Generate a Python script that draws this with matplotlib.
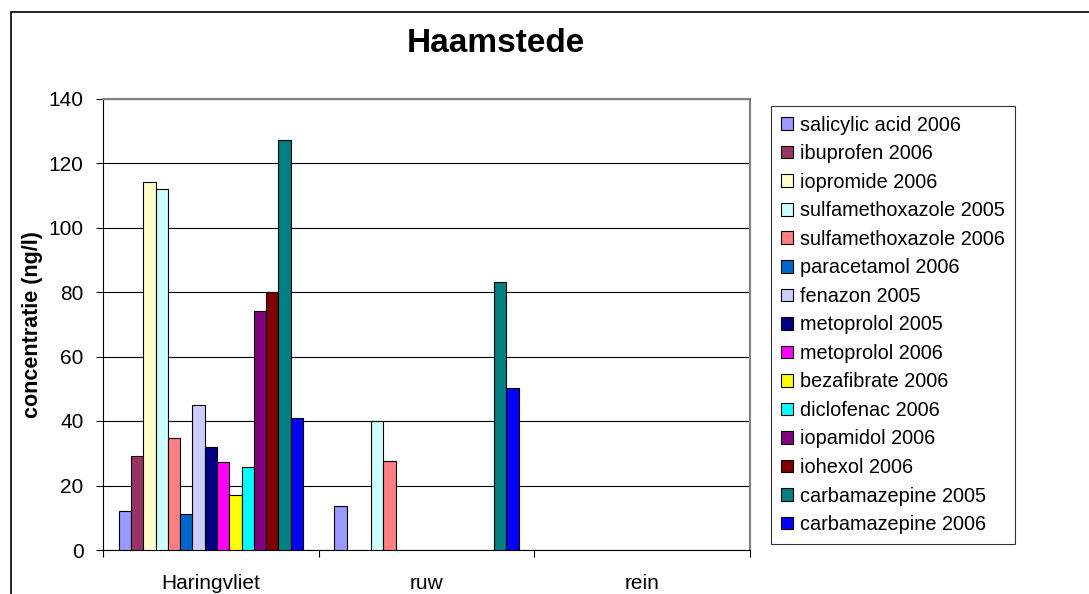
import matplotlib

matplotlib.use("Agg")
import matplotlib.pyplot as plt
import numpy as np
from matplotlib.patches import Rectangle

plt.rcParams["font.family"] = ["Liberation Sans", "DejaVu Sans"]

locations = ["Haringvliet", "ruw", "rein"]

series = [
    "salicylic acid 2006",
    "ibuprofen 2006",
    "iopromide 2006",
    "sulfamethoxazole 2005",
    "sulfamethoxazole 2006",
    "paracetamol 2006",
    "fenazon 2005",
    "metoprolol 2005",
    "metoprolol 2006",
    "bezafibrate 2006",
    "diclofenac 2006",
    "iopamidol 2006",
    "iohexol 2006",
    "carbamazepine 2005",
    "carbamazepine 2006",
]

# concentrations (ng/l) per series: [Haringvliet, ruw, rein]; nan = not measured
nan = np.nan
salicylic_acid_2006 = [12, 13.7, nan]
ibuprofen_2006 = [29, nan, nan]
iopromide_2006 = [114, nan, nan]
sulfamethoxazole_2005 = [112, 40, nan]
sulfamethoxazole_2006 = [34.7, 27.7, nan]
paracetamol_2006 = [11.2, nan, nan]
fenazon_2005 = [45, nan, nan]
metoprolol_2005 = [32, nan, nan]
metoprolol_2006 = [27.2, nan, nan]
bezafibrate_2006 = [16.9, nan, nan]
diclofenac_2006 = [25.8, nan, nan]
iopamidol_2006 = [74, nan, nan]
iohexol_2006 = [80, nan, nan]
carbamazepine_2005 = [127, 83, nan]
carbamazepine_2006 = [41, 50.3, nan]

values = [
    salicylic_acid_2006, ibuprofen_2006, iopromide_2006,
    sulfamethoxazole_2005, sulfamethoxazole_2006, paracetamol_2006,
    fenazon_2005, metoprolol_2005, metoprolol_2006, bezafibrate_2006,
    diclofenac_2006, iopamidol_2006, iohexol_2006,
    carbamazepine_2005, carbamazepine_2006,
]

colors = [
    "#9999FF", "#993366", "#FFFFCC", "#CCFFFF", "#FF8080",
    "#0066CC", "#CCCCFF", "#000080", "#FF00FF", "#FFFF00",
    "#00FFFF", "#800080", "#800000", "#008080", "#0000FF",
]

W, H = 1089, 594
fig = plt.figure(figsize=(W / 100, H / 100), dpi=100)
ax = fig.add_axes([103 / W, 1 - 550 / H, (750 - 103) / W, (550 - 98.5) / H])

x = np.arange(len(locations))
bw = 0.057
n = len(series)
for i, (name, vals, col) in enumerate(zip(series, values, colors)):
    ax.bar(x + (i - (n - 1) / 2) * bw, vals, width=bw, color=col,
           edgecolor="black", linewidth=0.8, label=name, zorder=3)

ax.set_xlim(-0.5, 2.5)
ax.set_ylim(0, 140)
ax.set_yticks(range(0, 141, 20))
ax.yaxis.grid(True, color="black", linewidth=0.8, zorder=0)
ax.set_axisbelow(True)

ax.set_xticks(x)
ax.set_xticklabels(locations, fontsize=15)
ax.set_xticks([-0.5, 0.5, 1.5, 2.5], minor=True)
ax.tick_params(axis="x", which="major", length=0, pad=17)
ax.tick_params(axis="x", which="minor", length=5, width=0.8)
ax.tick_params(axis="y", length=5, width=0.8, pad=9, labelsize=15)

for side in ("top", "right"):
    ax.spines[side].set_color("#808080")
    ax.spines[side].set_linewidth(1.5)
for side in ("left", "bottom"):
    ax.spines[side].set_color("black")
    ax.spines[side].set_linewidth(0.8)

ax.set_ylabel("concentratie (ng/l)", fontsize=15.5, fontweight="bold", labelpad=4)
fig.text(496 / W, 1 - 43 / H, "Haamstede", fontsize=24, fontweight="bold",
         ha="center", va="center")

ax.legend(loc="upper left", bbox_to_anchor=(770.7 / W, 1 - 105.7 / H),
          bbox_transform=fig.transFigure, fontsize=14.3, frameon=True,
          fancybox=False, edgecolor="black", borderpad=0.5,
          handlelength=0.6, handleheight=0.6, handletextpad=0.4,
          labelspacing=0.48, borderaxespad=0)
leg = ax.get_legend()
leg.get_frame().set_linewidth(0.8)

# chart area border (cropped at right and bottom)
fig.patches.append(Rectangle((11 / W, -0.2), 1.5, 1 - 12 / H + 0.2,
                             transform=fig.transFigure, fill=False,
                             edgecolor="black", linewidth=1.2))

fig.savefig("out.png", dpi=100)
plt.close(fig)
